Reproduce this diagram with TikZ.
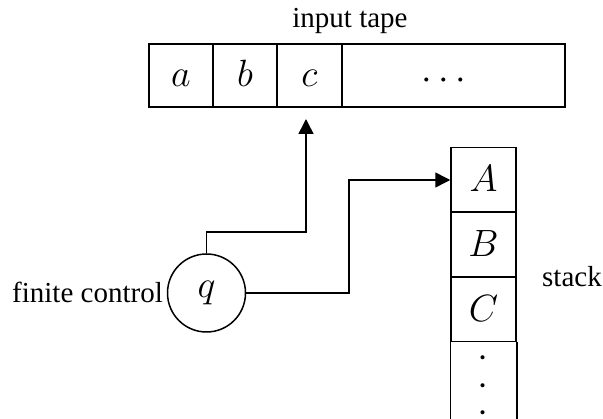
\RequirePackage{fix-cm}
\documentclass[tikz,border=0pt]{standalone}
\usepackage{fontspec}
\setmainfont{Liberation Serif}
\usetikzlibrary{arrows.meta}
\tikzset{
  lbl/.style={font=\fontsize{29}{32}\selectfont, inner sep=0pt},
  cell/.style={draw, line width=1.5pt, inner sep=0pt, font=\fontsize{38}{40}\selectfont,
    text height=23pt, text depth=0pt},
  tapecell/.style={cell, minimum width=64pt, minimum height=63pt},
  stackcell/.style={cell, minimum width=65pt, minimum height=64.5pt, text height=24pt},
  ctrl/.style={draw, circle, line width=1.5pt, minimum size=78pt, inner sep=0pt,
    font=\fontsize{38}{40}\selectfont},
  conn/.style={line width=1.5pt, -{Triangle[length=15pt,width=15pt]}},
  dotmark/.style={inner sep=0pt, anchor=base, font=\fontsize{38}{40}\selectfont},
  vdots/.style={inner sep=0pt, rotate=-90, font=\fontsize{34}{36}\selectfont,
    text height=4.5pt, text depth=0pt}
}
\begin{document}
\begin{tikzpicture}[x=1pt,y=-1pt]
\useasboundingbox (0,0) rectangle (603,419);
% input tape
\node[lbl, anchor=base] (tapelbl) at (350,28) {input tape};
\node[tapecell] (ta) at (181,75.5) {$a$};
\node[tapecell] (tb) at (245,75.5) {$b$};
\node[tapecell, minimum width=65pt] (tc) at (309.5,75.5) {$c$};
\node[tapecell, minimum width=223pt] (tr) at (453.5,75.5) {};
\node[dotmark] (tdots) at (444,89.5) {${\cdot}\hspace{6.5pt}{\cdot}\hspace{6.5pt}{\cdot}$};
% stack
\node[stackcell] (sA) at (483.5,180) {$A$};
\node[stackcell] (sB) at (483.5,244.5) {$B$};
\node[stackcell] (sC) at (483.5,309.5) {$C$};
\draw[line width=1.5pt] (sC.south west) -- ++(0,90);
\draw[line width=1.5pt] (sC.south east) -- ++(0,90);
\node[vdots] (sdots) at (483.5,385.5) {.\hspace{19pt}.\hspace{19pt}.};
\node[lbl, anchor=base] (stacklbl) at (572,287) {stack};
% finite control
\node[ctrl] (q) at (206.5,293) {$q$};
\node[lbl, anchor=base east] (fclbl) at (163,303) {finite control};
% connectors
\coordinate (head) at (306,119);
\draw[conn] (q.north) -- (q.north |- 0,232) -| (head);
\draw[conn] (q.east) -- (349,293) |- (sA.west);
\end{tikzpicture}
\end{document}
